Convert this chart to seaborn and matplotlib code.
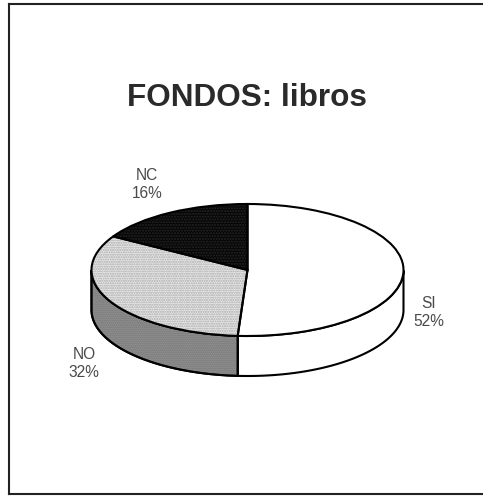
import numpy as np
import matplotlib
matplotlib.use("Agg")
import matplotlib.pyplot as plt
import seaborn as sns

# datos del grafico
categorias = ["SI", "NO", "NC"]
porcentajes = [52, 32, 16]          # lo que dicen las etiquetas
valores = [51, 32.5, 16.5]          # lo que miden las porciones en la imagen
titulo = "FONDOS: libros"

sns.set_theme(style="white")
plt.rcParams['font.family'] = ['Liberation Sans', 'DejaVu Sans']

colores_top = sns.color_palette(["#ffffff", "#eaeaea", "#060606"])
colores_lado = sns.color_palette(["#ffffff", "#9a9a9a", "#060606"])
tramas_top = [None, ".......", "......"]
tramas_color = ["#ffffff", "#a8a8a8", "#262626"]

W, H = 483, 496
fig = plt.figure(figsize=(W / 100, H / 100), dpi=100, facecolor="white")

# marco: izquierda, arriba y abajo (sin lado derecho)
x0, x1, y0, y1 = 9, 486, 4, 494
ax = fig.add_axes([x0 / W, 1 - y1 / H, (x1 - x0) / W, (y1 - y0) / H])

# elipse de la tarta en pixeles
cx, cy, rx, ry, prof = 247.5, 270, 156, 66, 40
profundidad = prof / ry

# angulos de cada porcion (sentido horario desde arriba)
fin = 90 - np.cumsum(valores) * 3.6
ini = np.r_[90, fin[:-1]]

# pared lateral: solo la parte de delante de cada porcion
for a, b, c, i in zip(ini, fin, colores_lado, range(3)):
    t = np.radians(np.linspace(b, a, 200))
    t = t[np.sin(t) <= 0]
    if len(t) == 0:
        continue
    xs = np.r_[np.cos(t), np.cos(t[::-1])]
    ys = np.r_[np.sin(t), np.sin(t[::-1]) - profundidad]
    ax.fill(xs, ys, facecolor=c, edgecolor="black", lw=1.5, zorder=1)
    if i == 1:
        ax.fill(xs, ys, facecolor="none", edgecolor="#6e6e6e", hatch="........", lw=0, zorder=1.5)
        ax.plot(np.r_[xs, xs[0]], np.r_[ys, ys[0]], color="black", lw=1.5, zorder=1.6)

# tapa
ax.pie(valores, colors=colores_top, startangle=90, counterclock=False,
       radius=1, wedgeprops=dict(linewidth=0, zorder=2))
wedges, _ = ax.pie(valores, colors=colores_top, startangle=90, counterclock=False,
                   radius=1, wedgeprops=dict(linewidth=0, zorder=3))
for w, h, c in zip(wedges, tramas_top, tramas_color):
    if h is None:
        w.set_visible(False)
    else:
        w.set_hatch(h)
        w.set_edgecolor(c)
        w.set_fill(False)
        w.set_linewidth(0)
ax.pie(valores, colors=["none"] * 3, startangle=90, counterclock=False,
       radius=1, wedgeprops=dict(edgecolor="black", linewidth=1.5, zorder=4))

ax.set_aspect("auto")
ax.set_xlim((x0 - cx) / rx, (x1 - cx) / rx)
ax.set_ylim((cy - y1) / ry, (cy - y0) / ry)
ax.set_xticks([])
ax.set_yticks([])

# pie() apaga el marco
ax.set_frame_on(True)
for lado in ["left", "top", "bottom"]:
    ax.spines[lado].set_visible(True)
    ax.spines[lado].set_color("#222222")
    ax.spines[lado].set_linewidth(1.5)
ax.spines["right"].set_visible(False)

fig.text(247 / W, 1 - 97.5 / H, titulo, ha="center", va="center",
         fontsize=22.7, fontweight="bold", color="#2a2a2a")

pos_etiquetas = [(429, 312), (84, 363.5), (147, 184)]
for cat, v, (px, py) in zip(categorias, porcentajes, pos_etiquetas):
    fig.text(px / W, 1 - py / H, f"{cat}\n{v}%", ha="center", va="center",
             fontsize=11.2, color="#4a4a4a", linespacing=1.25)

fig.savefig("out.png", dpi=100)
